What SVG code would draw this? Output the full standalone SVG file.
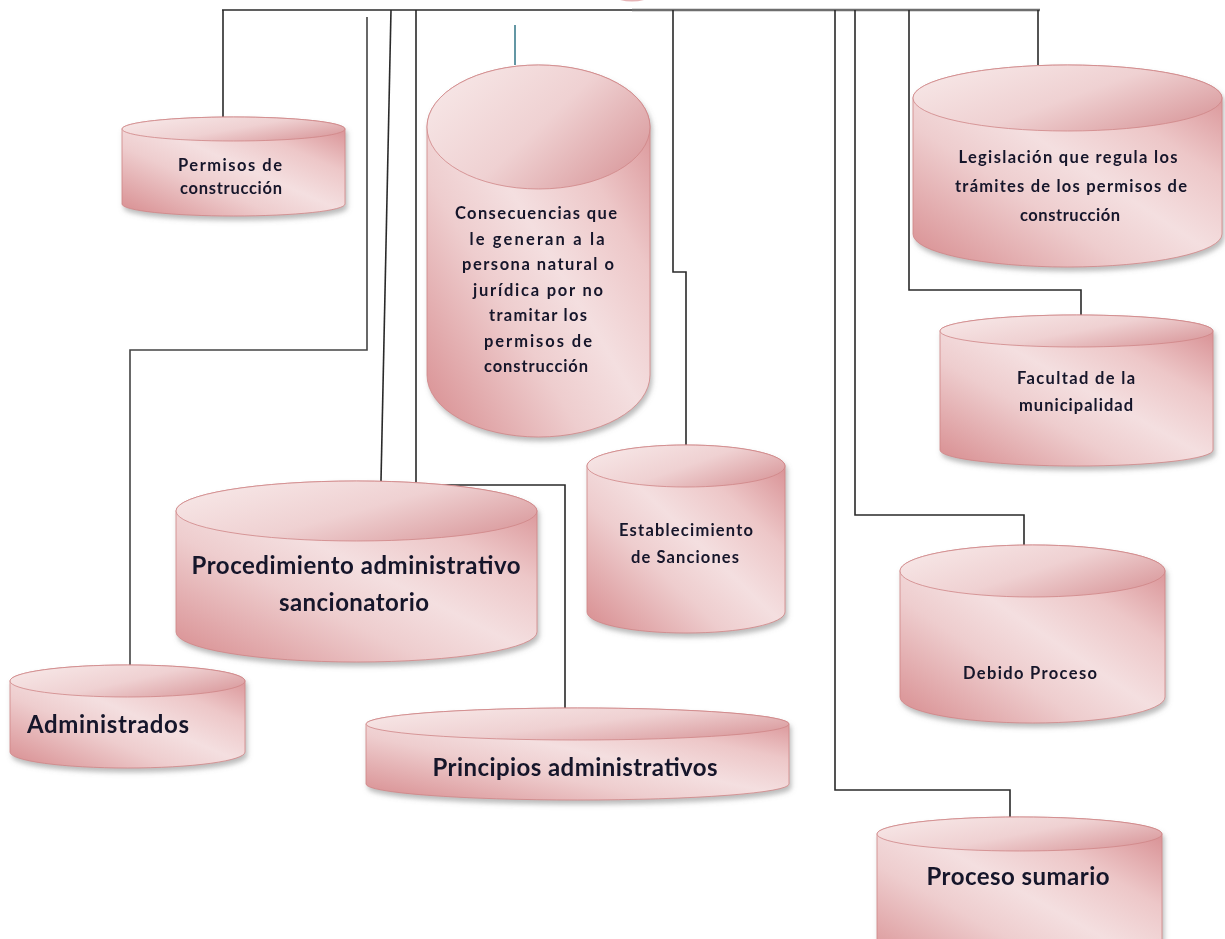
<svg xmlns="http://www.w3.org/2000/svg" width="1225" height="939" viewBox="0 0 1225 939">
<style>
.body{fill:url(#gb);stroke:#cf8587;stroke-width:0.8}
.top{fill:url(#gt);stroke:#cf8587;stroke-width:0.8}
.lbl{font-family:Lato,"Liberation Sans",sans-serif;font-weight:bold;fill:#15152a;text-anchor:middle}
.s{font-size:16.5px}
.l{font-size:24px}
.conn{fill:none;stroke:#2a2a2a;stroke-width:1.6}
</style>
<defs>
<linearGradient id="gb" x1="0" y1="1" x2="1" y2="0">
<stop offset="0" stop-color="#d78b8e"/>
<stop offset="0.35" stop-color="#eecdce"/>
<stop offset="0.52" stop-color="#f4dfe0"/>
<stop offset="0.72" stop-color="#edc7c8"/>
<stop offset="1" stop-color="#d48589"/>
</linearGradient>
<linearGradient id="gt" x1="0" y1="0.2" x2="1" y2="0.8">
<stop offset="0" stop-color="#f7e7e7"/>
<stop offset="0.5" stop-color="#efd1d2"/>
<stop offset="1" stop-color="#d9999c"/>
</linearGradient>
<filter id="sh" x="-10%" y="-10%" width="125%" height="130%">
<feDropShadow dx="2" dy="4" stdDeviation="2.5" flood-color="#777" flood-opacity="0.5"/>
</filter>
</defs>
<rect width="1225" height="939" fill="#ffffff"/>
<path d="M620 0 Q632 3 644 0 Z" fill="#e6b4b6"/>
<g id="connectors">
<path class="conn" d="M222 10 H632"/>
<path class="conn" d="M632 10 H1040" style="stroke:#6e6e6e;stroke-width:2.6"/>
<path class="conn" d="M223 10 V117"/>
<path class="conn" d="M367 17 V350 H130 V665" style="stroke:#444"/>
<path class="conn" d="M391 10 L381 481"/>
<path class="conn" d="M416 10 V485 H565 V708"/>
<path class="conn" d="M515 25 V65" style="stroke:#3c7d8e"/>
<path class="conn" d="M673 10 V272 H686 V445"/>
<path class="conn" d="M835 10 V790 H1010 V817"/>
<path class="conn" d="M855 10 V515 H1024 V545"/>
<path class="conn" d="M909 10 V290 H1081 V315"/>
<path class="conn" d="M1038 10 V65"/>
</g>
<g id="permisos" filter="url(#sh)">
<path class="body" d="M122 129 A111.5 12 0 0 1 345 129 V204 A111.5 12 0 0 1 122 204 Z"/>
<ellipse class="top" cx="233.5" cy="129" rx="111.5" ry="12"/>
<text class="lbl s" x="230" y="171" textLength="104" lengthAdjust="spacing">Permisos de</text>
<text class="lbl s" x="231" y="194" textLength="102" lengthAdjust="spacing">construcción</text>
</g>
<g id="consecuencias" filter="url(#sh)">
<path class="body" d="M427 127 A111.5 62 0 0 1 650 127 V375 A111.5 62 0 0 1 427 375 Z"/>
<ellipse class="top" cx="538.5" cy="127" rx="111.5" ry="62"/>
<text class="lbl s" x="536" y="219" textLength="162" lengthAdjust="spacing">Consecuencias que</text>
<text class="lbl s" x="537" y="244.5" textLength="135" lengthAdjust="spacing">le generan a la</text>
<text class="lbl s" x="538" y="270" textLength="152" lengthAdjust="spacing">persona natural o</text>
<text class="lbl s" x="538" y="295.5" textLength="130" lengthAdjust="spacing">jurídica por no</text>
<text class="lbl s" x="538" y="321" textLength="98" lengthAdjust="spacing">tramitar los</text>
<text class="lbl s" x="538" y="346.5" textLength="108" lengthAdjust="spacing">permisos de</text>
<text class="lbl s" x="536" y="372" textLength="104" lengthAdjust="spacing">construcción</text>
</g>
<g id="legislacion" filter="url(#sh)">
<path class="body" d="M913 98 A154.5 33 0 0 1 1222 98 V234 A154.5 33 0 0 1 913 234 Z"/>
<ellipse class="top" cx="1067.5" cy="98" rx="154.5" ry="33"/>
<text class="lbl s" x="1068" y="163" textLength="219" lengthAdjust="spacing">Legislación que regula los</text>
<text class="lbl s" x="1071" y="192" textLength="232" lengthAdjust="spacing">trámites de los permisos de</text>
<text class="lbl s" x="1070" y="221" textLength="100" lengthAdjust="spacing">construcción</text>
</g>
<g id="facultad" filter="url(#sh)">
<path class="body" d="M940 331 A136.5 16 0 0 1 1213 331 V450 A136.5 16 0 0 1 940 450 Z"/>
<ellipse class="top" cx="1076.5" cy="331" rx="136.5" ry="16"/>
<text class="lbl s" x="1076" y="384" textLength="118" lengthAdjust="spacing">Facultad de la</text>
<text class="lbl s" x="1076" y="411" textLength="114" lengthAdjust="spacing">municipalidad</text>
</g>
<g id="establecimiento" filter="url(#sh)">
<path class="body" d="M587 466 A99 21 0 0 1 785 466 V612 A99 21 0 0 1 587 612 Z"/>
<ellipse class="top" cx="686" cy="466" rx="99" ry="21"/>
<text class="lbl s" x="686" y="536" textLength="134" lengthAdjust="spacing">Establecimiento</text>
<text class="lbl s" x="685" y="563" textLength="108" lengthAdjust="spacing">de Sanciones</text>
</g>
<g id="debido" filter="url(#sh)">
<path class="body" d="M900 571 A132.5 26 0 0 1 1165 571 V697 A132.5 26 0 0 1 900 697 Z"/>
<ellipse class="top" cx="1032.5" cy="571" rx="132.5" ry="26"/>
<text class="lbl s" x="1030" y="679" textLength="134" lengthAdjust="spacing">Debido Proceso</text>
</g>
<g id="sumario" filter="url(#sh)">
<path class="body" d="M877 834 A142.5 17 0 0 1 1162 834 V960 A142.5 17 0 0 1 877 960 Z"/>
<ellipse class="top" cx="1019.5" cy="834" rx="142.5" ry="17"/>
<text class="lbl l" x="1018" y="885" textLength="183" lengthAdjust="spacing">Proceso sumario</text>
</g>
<g id="procedimiento" filter="url(#sh)">
<path class="body" d="M176 511 A180.5 30 0 0 1 537 511 V632 A180.5 30 0 0 1 176 632 Z"/>
<ellipse class="top" cx="356.5" cy="511" rx="180.5" ry="30"/>
<text class="lbl l" x="356" y="574" textLength="329" lengthAdjust="spacing">Procedimiento administrativo</text>
<text class="lbl l" x="354" y="611" textLength="150" lengthAdjust="spacing">sancionatorio</text>
</g>
<g id="administrados" filter="url(#sh)">
<path class="body" d="M10 681 A117.5 16 0 0 1 245 681 V752 A117.5 16 0 0 1 10 752 Z"/>
<ellipse class="top" cx="127.5" cy="681" rx="117.5" ry="16"/>
<text class="lbl l" x="108" y="733" textLength="162" lengthAdjust="spacing">Administrados</text>
</g>
<g id="principios" filter="url(#sh)">
<path class="body" d="M366 724 A211.5 16 0 0 1 789 724 V784 A211.5 16 0 0 1 366 784 Z"/>
<ellipse class="top" cx="577.5" cy="724" rx="211.5" ry="16"/>
<text class="lbl l" x="575" y="776" textLength="285" lengthAdjust="spacing">Principios administrativos</text>
</g>
</svg>
